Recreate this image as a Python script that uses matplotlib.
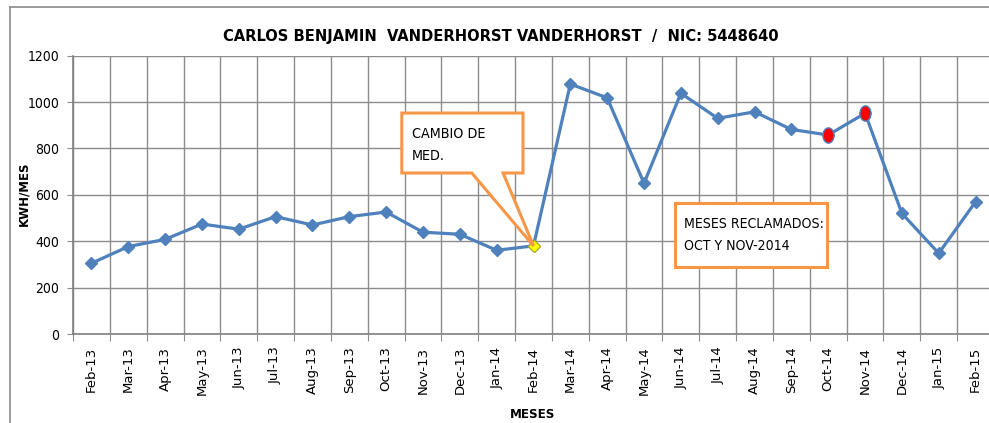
import numpy as np
import matplotlib
matplotlib.use("Agg")
import matplotlib.pyplot as plt
from matplotlib.patches import Polygon, Rectangle
from matplotlib.path import Path
from matplotlib.transforms import Affine2D

plt.rcParams["font.family"] = ["DejaVu Sans"]
plt.rcParams["font.stretch"] = "condensed"

months = ["Feb-13", "Mar-13", "Apr-13", "May-13", "Jun-13", "Jul-13", "Aug-13",
          "Sep-13", "Oct-13", "Nov-13", "Dec-13", "Jan-14", "Feb-14", "Mar-14",
          "Apr-14", "May-14", "Jun-14", "Jul-14", "Aug-14", "Sep-14", "Oct-14",
          "Nov-14", "Dec-14", "Jan-15", "Feb-15"]
kwh = [305, 377, 408, 474, 452, 506, 470, 506, 526, 439, 430, 361, 380, 1078,
       1018, 650, 1038, 930, 958, 882, 858, 952, 520, 348, 570]
meter_change = ["Feb-14"]
claimed = ["Oct-14", "Nov-14"]

title = "CARLOS BENJAMIN  VANDERHORST VANDERHORST  /  NIC: 5448640"

BLUE = "#4F81BD"
ORANGE = "#F79646"
GRID = "#8C8C8C"

W, H = 989, 423
fig = plt.figure(figsize=(W / 100, H / 100), dpi=100)

# plot area in pixels (right edge runs past the crop like in the reference)
px_l, px_r, px_t, px_b = 73, 994, 55.7, 334
ax = fig.add_axes([px_l / W, (H - px_b) / H, (px_r - px_l) / W, (px_b - px_t) / H])

x = np.arange(len(months))
ax.plot(x, kwh, color=BLUE, lw=2.3, marker="D", ms=6, mfc=BLUE, mec=BLUE, zorder=3)

idx_mc = [months.index(m) for m in meter_change]
ax.plot(idx_mc, [kwh[i] for i in idx_mc], ls="none", marker="D", ms=6.5,
        mfc="#FFFF00", mec="#B8B800", mew=0.8, zorder=4)

ellipse = Path.unit_circle().transformed(Affine2D().scale(0.72, 1.0))
idx_cl = [months.index(m) for m in claimed]
ax.plot(idx_cl, [kwh[i] for i in idx_cl], ls="none", marker=ellipse, ms=11,
        mfc="#FF0000", mec=BLUE, mew=1.0, zorder=4)

ax.set_xlim(-0.5, len(months) - 0.5)
ax.set_ylim(0, 1200)
ax.set_yticks(np.arange(0, 1201, 200))
ax.tick_params(axis="y", labelsize=10, length=4, color=GRID, pad=6)

# boundaries = major ticks + grid, centers = labels
ax.set_xticks(np.arange(len(months) + 1) - 0.5)
ax.set_xticklabels([])
ax.set_xticks(x, minor=True)
ax.set_xticklabels(months, minor=True, rotation=90, fontsize=9.5,
                   fontstretch="normal")
ax.tick_params(axis="x", which="major", length=5, color=GRID)
ax.tick_params(axis="x", which="minor", length=0, pad=9)

ax.grid(True, which="major", color=GRID, lw=1.0)
ax.set_axisbelow(True)
for s in ["top", "right"]:
    ax.spines[s].set_visible(False)
for s in ["left", "bottom"]:
    ax.spines[s].set_color("#808080")
    ax.spines[s].set_linewidth(1.2)

ax.set_ylabel("KWH/MES", fontsize=8.5, fontweight="bold", fontstretch="normal")
ax.yaxis.set_label_coords((30 - px_l) / (px_r - px_l), (px_b - 194) / (px_b - px_t))
fig.text(533 / W, 1 - 414 / H, "MESES", fontsize=9.5, fontweight="bold",
         ha="center", va="center")
fig.text(501 / W, 1 - 37 / H, title, fontsize=11.8, fontweight="bold",
         ha="center", va="center")

# callout "CAMBIO DE MED." with wedge to the Feb-14 point
tip = ax.transAxes.inverted().transform(
    ax.transData.transform((idx_mc[0], kwh[idx_mc[0]])))
bl, br, bt, bb = 0.357, 0.4886, 0.794, 0.5785
call = Polygon([(bl, bt), (br, bt), (br, bb), (0.467, bb), tuple(tip),
                (0.433, bb), (bl, bb)], closed=True, transform=ax.transAxes,
               fc="white", ec=ORANGE, lw=2.2, zorder=5, joinstyle="miter")
ax.add_patch(call)
ax.text(0.3678, 0.679, "CAMBIO DE\nMED.", transform=ax.transAxes,
        fontsize=10.3, ha="left", va="center", linespacing=1.75, zorder=6)

# box "MESES RECLAMADOS"
r2 = Rectangle((0.6536, 0.2407), 0.8187 - 0.6536, 0.4718 - 0.2407,
               transform=ax.transAxes, fc="white", ec=ORANGE, lw=2.2, zorder=5)
ax.add_patch(r2)
ax.text(0.6634, 0.357, "MESES RECLAMADOS:\nOCT Y NOV-2014",
        transform=ax.transAxes, fontsize=10.1, ha="left", va="center",
        linespacing=1.75, zorder=6)

# chart border (left and top edges visible in the crop)
fig.add_artist(plt.Line2D([10 / W, 10 / W], [0, 1 - 7 / H], color="#8A8A8A",
                          lw=1.2, transform=fig.transFigure))
fig.add_artist(plt.Line2D([10 / W, 1], [1 - 7 / H, 1 - 7 / H], color="#8A8A8A",
                          lw=1.2, transform=fig.transFigure))

fig.savefig("out.png", dpi=100)
